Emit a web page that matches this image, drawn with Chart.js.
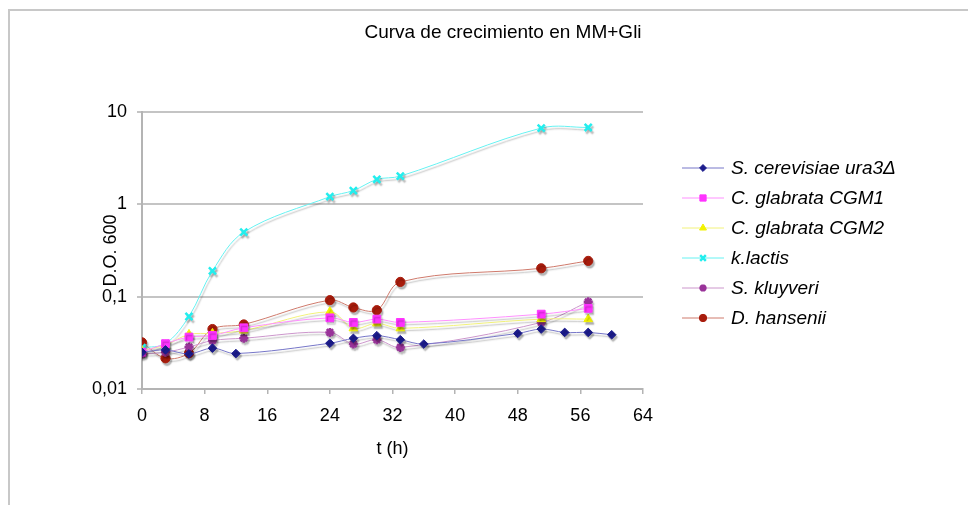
<!DOCTYPE html>
<html>
<head>
<meta charset="utf-8">
<title>Curva de crecimiento en MM+Gli</title>
<script src="https://cdn.jsdelivr.net/npm/chart.js@4.4.1/dist/chart.umd.min.js"></script>
<style>
  html, body { margin: 0; padding: 0; background: #fff; }
  #wrap { position: relative; width: 968px; height: 505px; }
</style>
</head>
<body>
<div id="wrap"><canvas id="growth-chart"></canvas></div>
<script>
// Growth curve: D.O. 600 vs time, log scale
const chartTitle = 'Curva de crecimiento en MM+Gli';
const xTitle = 't (h)';
const yTitle = 'D.O. 600';

const seriesNames = [
    'S. cerevisiae ura3Δ',
    'C. glabrata CGM1',
    'C. glabrata CGM2',
    'k.lactis',
    'S. kluyveri',
    'D. hansenii'
];

// sampling times (h)
const tMain = [0, 3, 6, 9, 13, 24, 27, 30, 33, 51, 57];
const tCerevisiae = [0, 3, 6, 9, 12, 24, 27, 30, 33, 36, 48, 51, 54, 57, 60];

// D.O. 600
const odCerevisiae = [0.025, 0.0265, 0.024, 0.0277, 0.0242, 0.0313, 0.0354, 0.0378, 0.0342, 0.0307, 0.040, 0.0446, 0.041, 0.041, 0.0387];
const odCgm1 = [0.025, 0.031, 0.0365, 0.038, 0.046, 0.059, 0.0526, 0.0571, 0.0526, 0.0647, 0.0747];
const odCgm2 = [0.026, 0.030, 0.039, 0.040, 0.043, 0.0686, 0.0454, 0.0514, 0.0454, 0.0571, 0.0571];
const odLactis = [0.028, 0.031, 0.061, 0.19, 0.50, 1.21, 1.41, 1.86, 2.02, 6.7, 6.8];
const odKluyveri = [0.024, 0.025, 0.0285, 0.0335, 0.0355, 0.041, 0.0307, 0.0342, 0.0282, 0.0526, 0.088];
const odHansenii = [0.032, 0.0215, 0.0244, 0.0446, 0.050, 0.0917, 0.0764, 0.0714, 0.1445, 0.203, 0.244];

// axis ticks
const xTickValues = [0, 8, 16, 24, 32, 40, 48, 56, 64];
const yTicks = [0.01, 0.1, 1, 10];
const yTickLabels = ['0,01', '0,1', '1', '10'];

const FONT = '"Liberation Sans", Arial, Helvetica, sans-serif';

function toPoints(times, values) {
    return times.map((t, i) => ({ x: t, y: values[i] }));
}

function makeSeries(name, times, values, style) {
    return {
        label: name,
        data: toPoints(times, values),
        borderColor: style.line,
        borderWidth: 1,
        pointStyle: style.marker,
        pointRadius: style.radius,
        pointBackgroundColor: style.color,
        pointBorderColor: style.color,
        pointBorderWidth: style.markerWidth || 1,
        tension: 0.35,
        fill: false
    };
}

const datasets = [
    makeSeries(seriesNames[0], tCerevisiae, odCerevisiae, { color: '#1c1c8c', line: '#7676c8', marker: 'rectRot', radius: 4.3 }),
    makeSeries(seriesNames[1], tMain, odCgm1, { color: '#ff33ff', line: '#ff90ff', marker: 'rect', radius: 5.5 }),
    makeSeries(seriesNames[2], tMain, odCgm2, { color: '#f2f200', line: '#f2f27a', marker: 'triangle', radius: 5 }),
    makeSeries(seriesNames[3], tMain, odLactis, { color: '#22eeee', line: '#66f2f2', marker: 'crossRot', radius: 5, markerWidth: 2.5 }),
    makeSeries(seriesNames[4], tMain, odKluyveri, { color: '#993399', line: '#cc96cc', marker: 'star', radius: 4.5, markerWidth: 2.5 }),
    makeSeries(seriesNames[5], tMain, odHansenii, { color: '#a81c0c', line: '#cf7a6c', marker: 'circle', radius: 4.6 })
];

// Excel-like drop shadow under lines and markers
const shadowPlugin = {
    id: 'shadow',
    beforeDatasetsDraw(chart) {
        const ctx = chart.ctx;
        ctx.save();
        ctx.shadowColor = 'rgba(0, 0, 0, 0.28)';
        ctx.shadowOffsetX = 1.5;
        ctx.shadowOffsetY = 2.5;
        ctx.shadowBlur = 1.5;
    },
    afterDatasetsDraw(chart) {
        chart.ctx.restore();
    }
};

// frame, title and legend
const decorPlugin = {
    id: 'decor',
    beforeDraw(chart) {
        const ctx = chart.ctx;
        ctx.save();
        ctx.strokeStyle = '#c8c8c8';
        ctx.lineWidth = 2;
        ctx.beginPath();
        ctx.moveTo(9, chart.height);
        ctx.lineTo(9, 10);
        ctx.lineTo(chart.width, 10);
        ctx.stroke();
        ctx.restore();
    },
    afterDraw(chart) {
        const ctx = chart.ctx;
        ctx.save();
        ctx.fillStyle = '#000';
        ctx.font = '19px ' + FONT;
        ctx.textAlign = 'center';
        ctx.textBaseline = 'middle';
        ctx.fillText(chartTitle, 503, 33);

        // legend
        const lx0 = 682, lx1 = 724, tx = 731, y0 = 168, dy = 30;
        ctx.font = 'italic 19px ' + FONT;
        ctx.textAlign = 'left';
        chart.data.datasets.forEach((ds, i) => {
            const y = y0 + i * dy;
            ctx.strokeStyle = ds.borderColor;
            ctx.lineWidth = 1;
            ctx.beginPath();
            ctx.moveTo(lx0, y);
            ctx.lineTo(lx1, y);
            ctx.stroke();
            ctx.fillStyle = ds.pointBackgroundColor;
            ctx.strokeStyle = ds.pointBorderColor;
            ctx.lineWidth = ds.pointBorderWidth;
            Chart.helpers.drawPoint(ctx, {
                pointStyle: ds.pointStyle,
                radius: ds.pointRadius * 0.8,
                rotation: 0,
                borderWidth: ds.pointBorderWidth
            }, (lx0 + lx1) / 2, y);
            ctx.fillStyle = '#000';
            ctx.fillText(ds.label, tx, y + 1);
        });
        ctx.restore();
    }
};

new Chart(document.getElementById('growth-chart'), {
    type: 'line',
    data: { datasets: datasets },
    options: {
        responsive: true,
        maintainAspectRatio: false,
        animation: false,
        events: [],
        layout: { padding: { left: 86, top: 112, right: 325, bottom: 41 } },
        plugins: {
            legend: { display: false },
            title: { display: false },
            tooltip: { enabled: false }
        },
        scales: {
            x: {
                type: 'linear',
                min: 0,
                max: 64,
                afterBuildTicks: s => { s.ticks = xTickValues.map(v => ({ value: v })); },
                afterFit: s => { s.height = 75; },
                grid: { drawOnChartArea: false, drawTicks: true, tickLength: 5, color: '#b4b4b4', lineWidth: 1.5 },
                border: { display: true, color: '#b4b4b4', width: 2 },
                ticks: { color: '#000', padding: 11, maxRotation: 0, font: { family: FONT, size: 18 } },
                title: { display: true, text: xTitle, color: '#000', padding: { top: 4, bottom: 4 }, font: { family: FONT, size: 18 } }
            },
            y: {
                type: 'logarithmic',
                min: 0.01,
                max: 10,
                afterBuildTicks: s => { s.ticks = yTicks.map(v => ({ value: v })); },
                afterFit: s => { s.width = 142 - 86; },
                grid: { drawTicks: true, tickLength: 5, color: '#c4c4c4', lineWidth: 2 },
                border: { display: true, color: '#b4b4b4', width: 2 },
                ticks: {
                    color: '#000',
                    padding: 10,
                    font: { family: FONT, size: 18 },
                    callback: value => yTickLabels[yTicks.indexOf(value)]
                },
                title: { display: true, text: yTitle, color: '#000', padding: { top: 14, bottom: 4 }, font: { family: FONT, size: 18 } }
            }
        }
    },
    plugins: [shadowPlugin, decorPlugin]
});
</script>
</body>
</html>
